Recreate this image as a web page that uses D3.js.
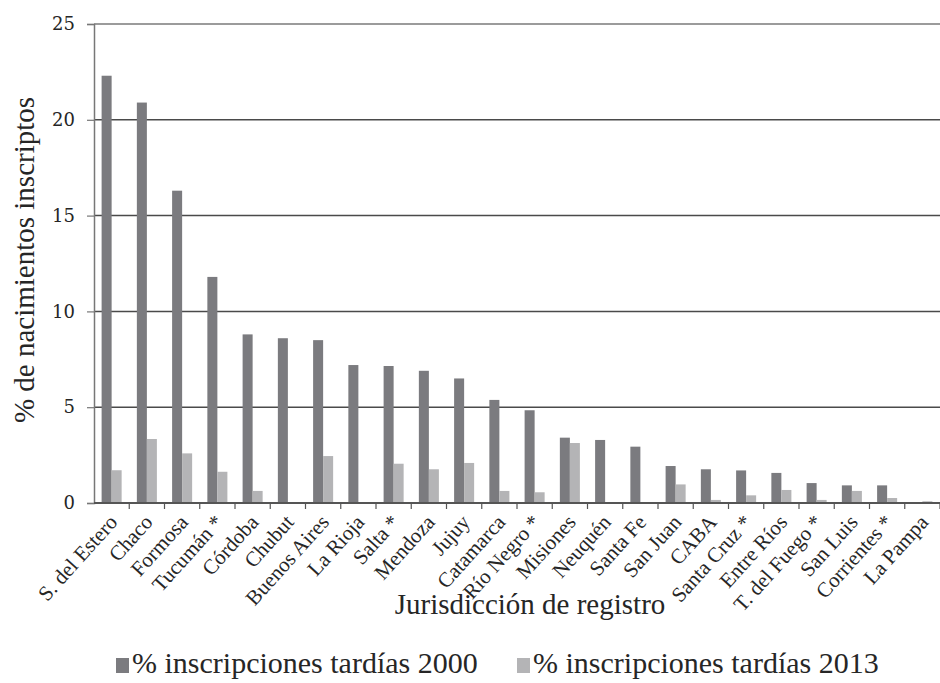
<!DOCTYPE html>
<html>
<head>
<meta charset="utf-8">
<script src="https://cdn.jsdelivr.net/npm/d3@7"></script>
<style>
    body { margin: 0; background: #fff; }
    .lbl { font-family: "Liberation Serif", "DejaVu Serif", serif; fill: #262626; }
</style>
</head>
<body>
<div id="chart"></div>
<script>
// jurisdicciones (eje x)
var categorias = ["S. del Estero", "Chaco", "Formosa", "Tucumán*", "Córdoba", "Chubut",
    "Buenos Aires", "La Rioja", "Salta*", "Mendoza", "Jujuy", "Catamarca", "Río Negro*",
    "Misiones", "Neuquén", "Santa Fe", "San Juan", "CABA", "Santa Cruz*", "Entre Ríos",
    "T. del Fuego*", "San Luis", "Corrientes*", "La Pampa"]

// % inscripciones tardías
var valores2000 = [22.3, 20.9, 16.3, 11.8, 8.8, 8.6, 8.5, 7.2, 7.15, 6.9, 6.5, 5.38, 4.84,
    3.41, 3.29, 2.94, 1.93, 1.76, 1.7, 1.57, 1.04, 0.92, 0.92, 0]
var valores2013 = [1.71, 3.34, 2.59, 1.63, 0.63, 0, 2.45, 0.05, 2.05, 1.76, 2.09, 0.63, 0.56,
    3.13, 0, 0, 0.97, 0.16, 0.4, 0.68, 0.16, 0.63, 0.26, 0.09]

var series = ["% inscripciones tardías 2000", "% inscripciones tardías 2013"]
var colores = ["#7b7b7f", "#b4b4b6"]
var yTicks = [0, 5, 10, 15, 20, 25]

var W = 940, H = 683
var plotLeft = 94, plotRight = 940, plotTop = 24, plotBottom = 503

var svg = d3.select("#chart").append("svg")
    .attr("width", W)
    .attr("height", H)

var x0 = d3.scaleBand().domain(categorias).range([plotLeft, plotRight]).padding(0)
var x1 = d3.scaleBand().domain([0, 1]).range([0, x0.bandwidth()]).paddingInner(0).paddingOuter(0.76)
var y = d3.scaleLinear().domain([0, 25]).range([plotBottom, plotTop])

// gridlines
svg.append("g")
    .selectAll("line")
    .data(yTicks.slice(1))
    .enter().append("line")
    .attr("x1", plotLeft).attr("x2", plotRight)
    .attr("y1", function (d) { return y(d) }).attr("y2", function (d) { return y(d) })
    .attr("stroke", function (d) { return d == 25 ? "#7a7a7a" : "#4a4a4a" })
    .attr("stroke-width", 1.5)

// bars
var datos = categorias.map(function (c, i) { return {cat: c, vals: [valores2000[i], valores2013[i]]} })
var grupos = svg.append("g").selectAll("g")
    .data(datos)
    .enter().append("g")
    .attr("transform", function (d) { return "translate(" + x0(d.cat) + ",0)" })

grupos.selectAll("rect")
    .data(function (d) { return d.vals.map(function (v, k) { return {k: k, v: v} }) })
    .enter().append("rect")
    .attr("x", function (d) { return x1(d.k) })
    .attr("width", x1.bandwidth())
    .attr("y", function (d) { return y(d.v) })
    .attr("height", function (d) { return plotBottom - y(d.v) })
    .attr("fill", function (d) { return colores[d.k] })

// y axis
var yAxis = svg.append("g")
    .attr("transform", "translate(" + plotLeft + ",0)")
    .call(d3.axisLeft(y).tickValues(yTicks).tickSize(7).tickPadding(12))
yAxis.attr("font-family", "'DejaVu Serif', 'Liberation Serif', serif").attr("font-size", 18)
yAxis.selectAll("text").attr("fill", "#262626")
yAxis.select(".domain").attr("stroke", "#777").attr("stroke-width", 1.5)
yAxis.selectAll(".tick line").attr("stroke", "#777").attr("stroke-width", 1.2)

// x axis baseline + ticks at category boundaries
svg.append("line")
    .attr("x1", plotLeft).attr("x2", plotRight).attr("y1", plotBottom).attr("y2", plotBottom)
    .attr("stroke", "#555").attr("stroke-width", 1.8)
var bordes = categorias.map(function (c) { return x0(c) }).concat([plotRight])
svg.append("g").selectAll("line")
    .data(bordes.slice(1))
    .enter().append("line")
    .attr("x1", function (d) { return d }).attr("x2", function (d) { return d })
    .attr("y1", plotBottom).attr("y2", plotBottom + 6)
    .attr("stroke", "#555").attr("stroke-width", 1.2)

// x labels, rotated
svg.append("g").selectAll("text")
    .data(categorias)
    .enter().append("text")
    .attr("class", "lbl")
    .attr("font-size", 21)
    .attr("text-anchor", "end")
    .attr("transform", function (d) {
        return "translate(" + (x0(d) + x0.bandwidth() / 2 + 7) + "," + (plotBottom + 20) + ") rotate(-48)"
    })
    .text(function (d) { return d.replace("*", " *") })

// axis titles
svg.append("text")
    .attr("class", "lbl")
    .attr("font-size", 29)
    .attr("text-anchor", "middle")
    .attr("transform", "translate(34,260) rotate(-90)")
    .text("% de nacimientos inscriptos")

svg.append("text")
    .attr("class", "lbl")
    .attr("font-size", 29)
    .attr("text-anchor", "middle")
    .attr("x", 530).attr("y", 614)
    .text("Jurisdicción de registro")

// legend
var legX = [116, 517]
var leg = svg.append("g").selectAll("g")
    .data(series)
    .enter().append("g")
    .attr("transform", function (d, i) { return "translate(" + legX[i] + ",658)" })
leg.append("rect")
    .attr("width", 13).attr("height", 15)
    .attr("fill", function (d, i) { return colores[i] })
leg.append("text")
    .attr("class", "lbl")
    .attr("font-size", 30)
    .attr("x", 16).attr("y", 15)
    .text(function (d) { return d })
</script>
</body>
</html>
